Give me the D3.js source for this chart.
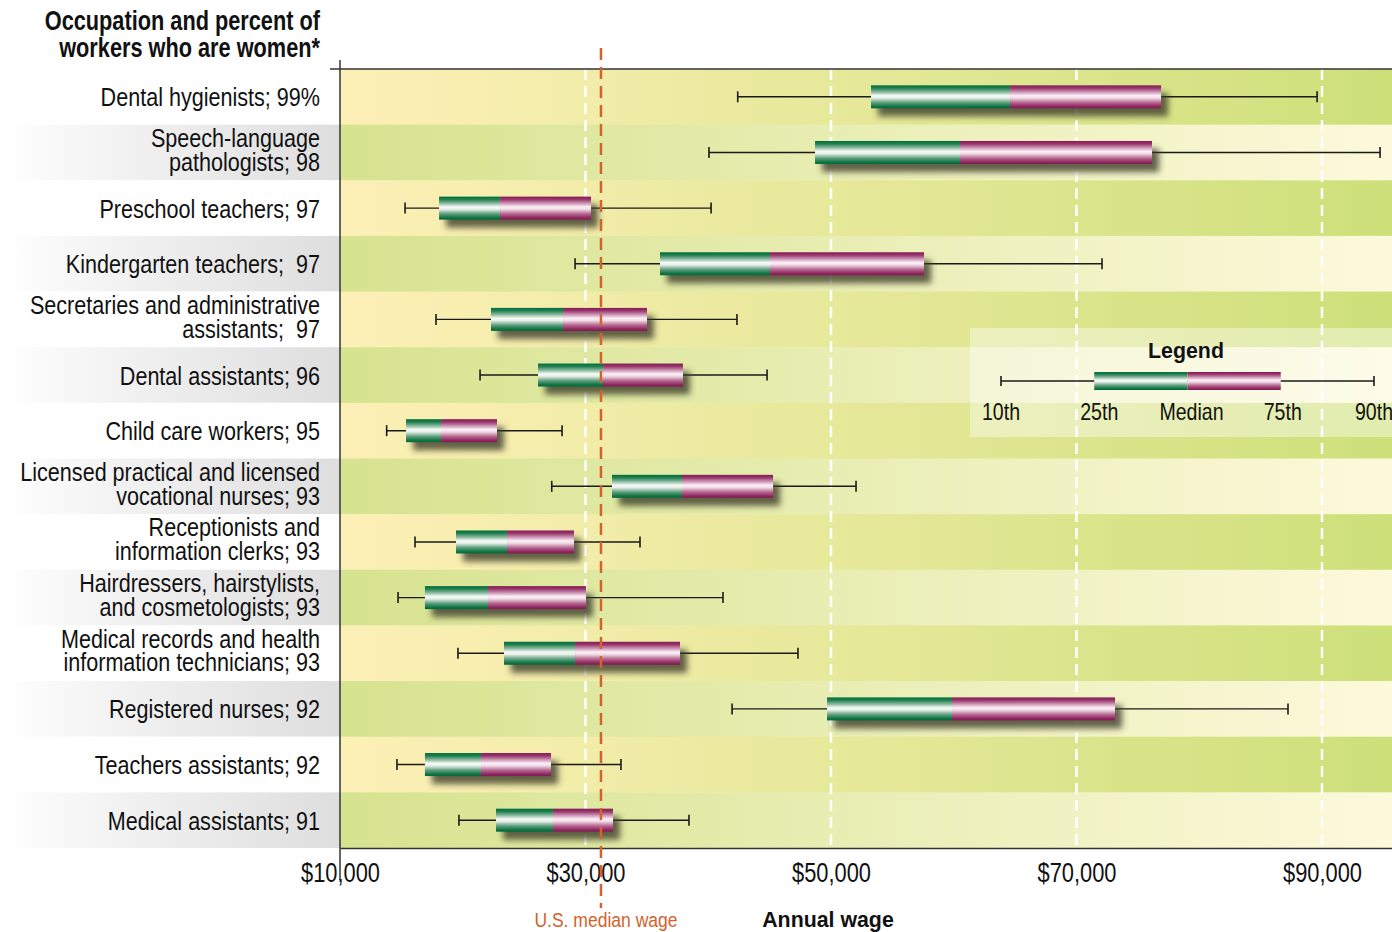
<!DOCTYPE html>
<html><head><meta charset="utf-8">
<script src="https://cdn.jsdelivr.net/npm/d3@7"></script>
<style>
body{margin:0;background:#fff;}
svg text{font-family:"Liberation Sans Narrow","Arial Narrow","Liberation Sans",Arial,sans-serif;white-space:pre;}
</style></head><body>
<svg id="c" width="1392" height="932"></svg>
<script>
const categories = [
  "Dental hygienists; 99%",
  "Speech-language\npathologists; 98",
  "Preschool teachers; 97",
  "Kindergarten teachers;  97",
  "Secretaries and administrative\nassistants;  97",
  "Dental assistants; 96",
  "Child care workers; 95",
  "Licensed practical and licensed\nvocational nurses; 93",
  "Receptionists and\ninformation clerks; 93",
  "Hairdressers, hairstylists,\nand cosmetologists; 93",
  "Medical records and health\ninformation technicians; 93",
  "Registered nurses; 92",
  "Teachers assistants; 92",
  "Medical assistants; 91"
];
const p10    = [42400, 40060, 15300, 29150, 17820, 21410, 13800, 27250, 16110, 14730, 19610, 41940, 14640, 19690];
const p25    = [53260, 48700, 18070, 36070, 22300, 26130, 15380, 32160, 19450, 16920, 23360, 49680, 16920, 22710];
const median = [64590, 60510, 23040, 45030, 28170, 31430, 18230, 37860, 23610, 22060, 29150, 59860, 21490, 27350];
const p75    = [76890, 76150, 30450, 57580, 35010, 37940, 22790, 45280, 29060, 30040, 37700, 73140, 27190, 32240];
const p90    = [89600, 94730, 40230, 72080, 42340, 44790, 28090, 52040, 34440, 41200, 47310, 87230, 32890, 38430];
const usMedianWage = 31260;
const tickValues = [10000, 30000, 50000, 70000, 90000];
const legendLabels = ["10th", "25th", "Median", "75th", "90th"];

(function () {
const svg = d3.select("#c");
const mL = 340, mR = 1392, mT = 69, mB = 848;
const x = d3.scaleLinear().domain([10000, 10000 + (mR - mL) / 0.012275]).range([mL, mR]);
const y = d3.scaleBand().domain(d3.range(categories.length)).range([mT, mB]).padding(0);
// condensed look: horizontal squeeze around the anchor x
const narrow = (sel, s, ax) => sel.attr("transform", `translate(${ax},0) scale(${s},1) translate(${-ax},0)`);

const defs = svg.append("defs");
function lg(id, stops, x1, x2, y1, y2, units) {
  const g = defs.append("linearGradient").attr("id", id)
    .attr("x1", x1).attr("x2", x2).attr("y1", y1).attr("y2", y2);
  if (units) g.attr("gradientUnits", units);
  stops.forEach(s => g.append("stop").attr("offset", s[0]).attr("stop-color", s[1]));
}
lg("bgEven", [[0, "#fdf0b7"], [1, "#cde07a"]], mL, mR, 0, 0, "userSpaceOnUse");
lg("bgOdd", [[0, "#d6e38f"], [1, "#fdf9db"]], mL, mR, 0, 0, "userSpaceOnUse");
lg("lblGray", [[0, "#ffffff"], [0.35, "#f2f2f2"], [1, "#dedede"]], 0, mL, 0, 0, "userSpaceOnUse");
lg("green", [[0, "#006f3c"], [0.12, "#1f7e4e"], [0.3, "#8fbca3"], [0.45, "#f7fbf8"], [0.55, "#e6f0ea"], [0.75, "#5e9e7c"], [0.92, "#0f7443"], [1, "#006a38"]], 0, 0, 0, 1);
lg("mag", [[0, "#871b57"], [0.12, "#97356b"], [0.3, "#cf9ab8"], [0.45, "#fcf0f6"], [0.55, "#f1dbe7"], [0.75, "#b5678f"], [0.92, "#8f2660"], [1, "#841a55"]], 0, 0, 0, 1);
const f = defs.append("filter").attr("id", "sh").attr("x", "-20%").attr("y", "-50%").attr("width", "140%").attr("height", "200%");
f.append("feGaussianBlur").attr("stdDeviation", 3.2);

svg.append("g").selectAll("rect").data(categories).join("rect")
  .attr("x", 0).attr("width", mL).attr("y", (d, i) => y(i)).attr("height", y.bandwidth())
  .attr("fill", (d, i) => i % 2 ? "url(#lblGray)" : "#ffffff");

svg.append("g").selectAll("rect").data(categories).join("rect")
  .attr("x", mL).attr("width", mR - mL).attr("y", (d, i) => y(i)).attr("height", y.bandwidth() + 0.5)
  .attr("fill", (d, i) => i % 2 ? "url(#bgOdd)" : "url(#bgEven)");

svg.append("g").selectAll("line").data(tickValues.slice(1)).join("line")
  .attr("x1", d => x(d)).attr("x2", d => x(d)).attr("y1", mT).attr("y2", mB)
  .attr("stroke", "#ffffff").attr("stroke-width", 2.5).attr("stroke-dasharray", "11,6");

svg.append("rect").attr("x", 970).attr("y", 328).attr("width", mR - 970).attr("height", 109)
  .attr("fill", "#ffffff").attr("opacity", 0.4);

const bh = 23;
const rows = svg.append("g").selectAll("g").data(categories).join("g")
  .attr("transform", (d, i) => `translate(0,${y(i) + y.bandwidth() / 2})`);
rows.append("line").attr("x1", (d, i) => x(p10[i])).attr("x2", (d, i) => x(p90[i]))
  .attr("stroke", "#1a1a1a").attr("stroke-width", 1.4);
rows.append("line").attr("x1", (d, i) => x(p10[i])).attr("x2", (d, i) => x(p10[i])).attr("y1", -5.5).attr("y2", 5.5)
  .attr("stroke", "#1a1a1a").attr("stroke-width", 1.6);
rows.append("line").attr("x1", (d, i) => x(p90[i])).attr("x2", (d, i) => x(p90[i])).attr("y1", -5.5).attr("y2", 5.5)
  .attr("stroke", "#1a1a1a").attr("stroke-width", 1.6);
rows.append("rect").attr("x", (d, i) => x(p25[i]) + 7).attr("width", (d, i) => x(p75[i]) - x(p25[i]))
  .attr("y", -bh / 2 + 8).attr("height", bh).attr("fill", "#3c3c2c").attr("opacity", 0.8).attr("filter", "url(#sh)");
rows.append("rect").attr("x", (d, i) => x(p25[i])).attr("width", (d, i) => x(median[i]) - x(p25[i]))
  .attr("y", -bh / 2).attr("height", bh).attr("fill", "url(#green)");
rows.append("rect").attr("x", (d, i) => x(median[i])).attr("width", (d, i) => x(p75[i]) - x(median[i]))
  .attr("y", -bh / 2).attr("height", bh).attr("fill", "url(#mag)");

const labels = svg.append("g").selectAll("text").data(categories).join("text")
  .attr("text-anchor", "end").attr("font-size", 26).attr("fill", "#111")
  .each(function (d, i) {
    const lines = d.split("\n");
    const c = y(i) + y.bandwidth() / 2;
    const t = d3.select(this);
    lines.forEach((ln, k) => {
      const by = lines.length === 1 ? c + 9.5 : c - 5.5 + k * 23.7;
      t.append("tspan").attr("x", 320).attr("y", by).text(ln);
    });
  });
narrow(labels, 0.83, 320);

const title = svg.append("text").attr("text-anchor", "end").attr("font-size", 27).attr("font-weight", "bold").attr("fill", "#111");
title.selectAll("tspan").data(["Occupation and percent of", "workers who are women*"]).join("tspan")
  .attr("x", 320).attr("y", (d, k) => 30 + k * 27.5).text(d => d);
narrow(title, 0.805, 320);

svg.append("line").attr("x1", 330).attr("x2", mR).attr("y1", mT).attr("y2", mT).attr("stroke", "#333").attr("stroke-width", 1.5);
svg.append("line").attr("x1", mL).attr("x2", mL).attr("y1", 60).attr("y2", 880).attr("stroke", "#333").attr("stroke-width", 1.5);

const ax = svg.append("g").attr("transform", `translate(0,${mB})`)
  .call(d3.axisBottom(x).tickValues(tickValues).tickSize(0).tickPadding(0).tickFormat(d => "$" + d3.format(",")(d)));
ax.attr("font-family", null).attr("font-size", null);
ax.select(".domain").attr("stroke", "#333").attr("stroke-width", 1.5);
ax.selectAll("text").attr("font-size", 27).attr("fill", "#111").attr("dy", 0).attr("y", 34)
  .attr("transform", "scale(0.81,1)");

const lx = d3.scalePoint().domain(legendLabels).range([1001, 1374]);
const lgG = svg.append("g");
const lt = lgG.append("text").attr("x", 1186).attr("y", 358).attr("text-anchor", "middle").attr("font-size", 23)
  .attr("font-weight", "bold").attr("fill", "#111").text("Legend");
narrow(lt, 0.93, 1186);
lgG.append("line").attr("x1", lx("10th")).attr("x2", lx("90th")).attr("y1", 381).attr("y2", 381).attr("stroke", "#1a1a1a").attr("stroke-width", 1.4);
["10th", "90th"].forEach(k => lgG.append("line").attr("x1", lx(k)).attr("x2", lx(k)).attr("y1", 376).attr("y2", 386).attr("stroke", "#1a1a1a").attr("stroke-width", 1.6));
lgG.append("rect").attr("x", lx("25th")).attr("width", lx("Median") - lx("25th")).attr("y", 372).attr("height", 18).attr("fill", "url(#green)");
lgG.append("rect").attr("x", lx("Median")).attr("width", lx("75th") - lx("Median")).attr("y", 372).attr("height", 18).attr("fill", "url(#mag)");
const off = {"10th": 0, "25th": 5, "Median": 4, "75th": 2, "90th": 0};
lgG.selectAll("text.l").data(legendLabels).join("text").attr("class", "l")
  .attr("x", d => lx(d) + off[d]).attr("y", 420)
  .attr("text-anchor", "middle").attr("font-size", 23).attr("fill", "#111").text(d => d)
  .attr("transform", d => `translate(${lx(d) + off[d]},0) scale(0.85,1) translate(${-(lx(d) + off[d])},0)`);

svg.append("line").attr("x1", x(usMedianWage)).attr("x2", x(usMedianWage)).attr("y1", 48).attr("y2", 908)
  .attr("stroke", "#d4622a").attr("stroke-width", 2.5).attr("stroke-dasharray", "12,7");
const um = svg.append("text").attr("x", x(usMedianWage) + 5).attr("y", 927).attr("text-anchor", "middle").attr("font-size", 20.5)
  .attr("fill", "#d4622a").text("U.S. median wage");
narrow(um, 0.855, x(usMedianWage) + 5);
const aw = svg.append("text").attr("x", 828).attr("y", 927).attr("text-anchor", "middle").attr("font-size", 22)
  .attr("font-weight", "bold").attr("fill", "#111").text("Annual wage");
narrow(aw, 0.97, 828);
})();
</script></body></html>
